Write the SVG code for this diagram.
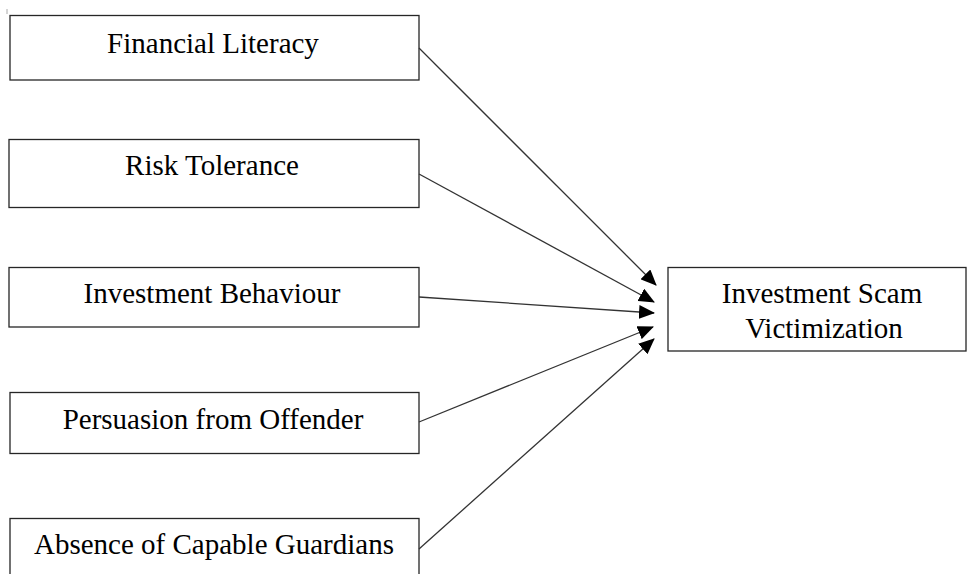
<svg xmlns="http://www.w3.org/2000/svg" width="968" height="574" viewBox="0 0 968 574">
<style>
.box{fill:#fff;stroke:#262626;stroke-width:1.3}
.lbl{font-family:"Liberation Serif","Times New Roman",serif;font-size:29px;fill:#000;text-anchor:middle}
.con{stroke:#333;stroke-width:1.3;fill:none}
</style>
<defs>
<marker id="ah" markerUnits="userSpaceOnUse" markerWidth="16" markerHeight="14" refX="15" refY="7" orient="auto">
<path d="M0,0 L16,7 L0,14 Z" fill="#000"/>
</marker>
</defs>
<rect width="968" height="574" fill="#fff"/>
<line x1="7" y1="9" x2="7" y2="14" stroke="#aaa" stroke-width="1"/>
<g id="n1"><rect class="box" x="10" y="15.5" width="409" height="64.5"/><text class="lbl" x="213" y="53">Financial Literacy</text></g>
<g id="n2"><rect class="box" x="9" y="139.5" width="410" height="68"/><text class="lbl" x="212" y="175">Risk Tolerance</text></g>
<g id="n3"><rect class="box" x="9" y="267.5" width="410" height="59.5"/><text class="lbl" x="212" y="303">Investment Behaviour</text></g>
<g id="n4"><rect class="box" x="10" y="392.5" width="409" height="61"/><text class="lbl" x="213" y="429">Persuasion from Offender</text></g>
<g id="n5"><rect class="box" x="10" y="518.5" width="409" height="70"/><text class="lbl" x="214" y="554">Absence of Capable Guardians</text></g>
<g id="target"><rect class="box" x="668" y="267.5" width="298" height="83.5"/><text class="lbl" x="822" y="303">Investment Scam</text><text class="lbl" x="824" y="338">Victimization</text></g>
<g id="connectors">
<line class="con" x1="419" y1="48" x2="656" y2="285" marker-end="url(#ah)"/>
<line class="con" x1="419" y1="174" x2="654" y2="302" marker-end="url(#ah)"/>
<line class="con" x1="419" y1="297" x2="654" y2="313" marker-end="url(#ah)"/>
<line class="con" x1="419" y1="422" x2="653" y2="327" marker-end="url(#ah)"/>
<line class="con" x1="419" y1="549" x2="654" y2="339" marker-end="url(#ah)"/>
</g>
</svg>
